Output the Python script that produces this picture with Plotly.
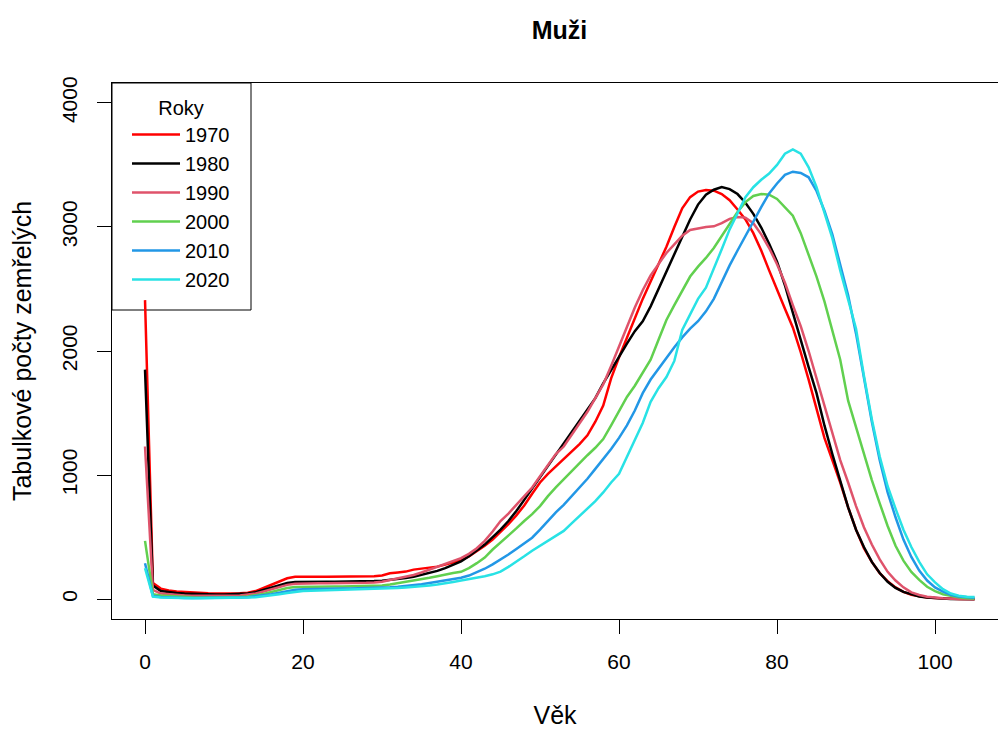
import plotly.graph_objects as go

ages = list(range(0, 106))

years = ["1970", "1980", "1990", "2000", "2010", "2020"]
colors = ["#FF0000", "#000000", "#DF536B", "#61D04F", "#2297E6", "#28E2E5"]

d1970 = [2410, 130, 85, 70, 62, 57, 53, 50, 48, 46,
         45, 46, 48, 52, 65, 90, 118, 145, 168, 180,
         182, 182, 181, 180, 180, 180, 180, 181, 182, 184,
         190, 208, 215, 222, 238, 245, 250, 262, 278, 295,
         312, 345, 385, 430, 480, 540, 605, 675, 755, 850,
         940, 1010, 1070, 1125, 1190, 1250, 1320, 1430, 1560, 1780,
         1950, 2110, 2270, 2420, 2560, 2700, 2840, 3000, 3150, 3240,
         3285, 3298, 3292, 3265, 3215, 3140, 3060, 2950, 2810, 2650,
         2490, 2340, 2190, 1990, 1770, 1530, 1300, 1120, 940, 740,
         560, 410, 300, 210, 145, 95, 58, 36, 22, 14,
         9, 5, 3, 2, 1, 1]

d1980 = [1850, 110, 65, 55, 50, 45, 42, 40, 38, 37,
         37, 38, 40, 45, 55, 75, 95, 115, 130, 138,
         140, 141, 141, 140, 140, 140, 141, 142, 144, 146,
         149, 155, 162, 170, 180, 195, 210, 228, 250, 275,
         305, 345, 390, 440, 500, 560, 630, 710, 800, 890,
         990, 1080, 1170, 1250, 1340, 1430, 1520, 1620, 1740, 1850,
         1960, 2060, 2160, 2240, 2360, 2500, 2650, 2780, 2920, 3060,
         3180, 3260, 3300, 3322, 3305, 3265, 3195, 3105, 2995, 2865,
         2720, 2530, 2310, 2080, 1870, 1660, 1400, 1170, 950, 740,
         560, 420, 300, 210, 140, 90, 58, 37, 22, 13,
         8, 4, 2, 1, 1, 0]

d1990 = [1230, 75, 45, 38, 33, 30, 28, 27, 26, 26,
         26, 27, 30, 35, 45, 62, 80, 100, 115, 124,
         127, 128, 128, 128, 128, 128, 129, 130, 132, 135,
         140, 155, 168, 180, 195, 215, 238, 258, 280, 305,
         330, 365, 410, 470, 545, 630, 690, 760, 830, 900,
         990, 1080, 1170, 1230, 1320, 1410, 1510, 1620, 1730, 1880,
         2040, 2200, 2350, 2490, 2610, 2700, 2790, 2860, 2930, 2975,
         2990, 3000, 3005, 3030, 3065, 3080, 3075, 3030, 2940, 2830,
         2700, 2550, 2370, 2200, 2000, 1780, 1560, 1360, 1120, 940,
         750, 580, 440, 320, 220, 150, 95, 55, 33, 20,
         12, 7, 4, 2, 1, 0]

d2000 = [470, 40, 30, 25, 20, 17, 15, 14, 14, 14,
         15, 16, 18, 22, 30, 42, 58, 75, 90, 98,
         100, 101, 101, 101, 102, 102, 103, 104, 105, 107,
         110, 118, 128, 138, 148, 160, 172, 185, 200, 210,
         220, 250, 290, 335, 400, 455, 510, 570, 630, 685,
         750, 830, 900, 965, 1030, 1100, 1160, 1220, 1290, 1400,
         1520, 1630, 1720, 1820, 1930, 2090, 2250, 2370, 2490, 2600,
         2680, 2750, 2830, 2930, 3020, 3120, 3200, 3250, 3265, 3260,
         3225, 3160, 3090, 2950, 2780, 2600, 2400, 2160, 1930, 1600,
         1380, 1160, 960, 772, 590, 430, 310, 220, 155, 100,
         65, 40, 25, 15, 8, 5]

d2010 = [290, 25, 18, 14, 12, 10, 9, 9, 9, 10,
         10, 11, 13, 16, 22, 30, 40, 52, 65, 75,
         80, 82, 83, 84, 84, 85, 86, 87, 88, 89,
         90, 95, 100, 106, 113, 120, 130, 140, 152, 162,
         172, 190, 215, 245, 280, 318, 360, 405, 450, 495,
         560, 630, 700, 760, 830, 900, 970, 1050, 1130, 1210,
         1300, 1400, 1520, 1660, 1770, 1860, 1940, 2030, 2110, 2180,
         2240, 2320, 2420, 2560, 2690, 2810, 2930, 3050, 3160, 3270,
         3350, 3420, 3445, 3435, 3400, 3290, 3130, 2940, 2700, 2450,
         2140, 1780, 1430, 1120, 860, 660, 480, 340, 230, 150,
         95, 60, 35, 22, 15, 12]

d2020 = [250, 20, 13, 10, 8, 7, 7, 7, 7, 8,
         8, 9, 11, 13, 16, 22, 30, 40, 50, 60,
         65, 68, 70, 71, 72, 73, 74, 75, 77, 80,
         83, 86, 90, 94, 98, 103, 110, 118, 126, 138,
         150, 160, 172, 185, 200, 222, 260, 300, 345, 390,
         430, 470, 510, 550, 610, 670, 730, 790, 860, 940,
         1010, 1150, 1280, 1420, 1590, 1700, 1790, 1920, 2170, 2300,
         2420, 2510, 2660, 2820, 2980, 3110, 3240, 3320, 3380, 3430,
         3500, 3590, 3625, 3590, 3480, 3320, 3120, 2910, 2650, 2420,
         2180, 1800, 1450, 1150, 910, 730, 560, 420, 300, 200,
         135, 80, 45, 28, 20, 18]

series = [d1970, d1980, d1990, d2000, d2010, d2020]

xticks = [0, 20, 40, 60, 80, 100]
yticks = [0, 1000, 2000, 3000, 4000]

FONT = "Liberation Sans, Arial, sans-serif"

# plot area geometry (pixels)
L, R, T, B = 112, 0, 83, 112
W, H = 998, 731
pw, ph = W - L - R, H - T - B

fig = go.Figure()
for name, col, vals in zip(years, colors, series):
    fig.add_trace(go.Scatter(x=ages, y=vals, mode="lines", name=name,
                             line=dict(color=col, width=2.5)))

# legend frame (R-style box)
fig.add_shape(type="rect", xref="paper", yref="paper",
              x0=0, x1=(251 - L) / pw, y0=1 - (310 - T) / ph, y1=1,
              line=dict(color="black", width=1), fillcolor="white", layer="below")

fig.update_layout(
    width=W, height=H,
    margin=dict(l=L, r=R, t=T, b=B, autoexpand=False),
    paper_bgcolor="white", plot_bgcolor="white",
    font=dict(family=FONT, size=21, color="black"),
    title=dict(text="<b>Muži</b>", x=559.5 / W, xref="container", xanchor="center",
               y=1 - 30 / H, yref="container", yanchor="middle",
               font=dict(size=25, family=FONT, color="black")),
    showlegend=True,
    legend=dict(x=15 / pw, y=1 - 6 / ph, xanchor="left", yanchor="top",
                bgcolor="rgba(0,0,0,0)", borderwidth=0,
                title=dict(text="Roky", side="top center",
                           font=dict(size=20, family=FONT, color="black")),
                font=dict(size=20, family=FONT, color="black"),
                itemwidth=48, tracegroupgap=0),
)

fig.update_xaxes(
    range=[-4.18, 107.97], tickvals=xticks, ticktext=[str(v) for v in xticks],
    ticks="outside", ticklen=14, tickwidth=1, tickcolor="black",
    showline=True, linecolor="black", linewidth=1, mirror=True,
    showgrid=False, zeroline=False, ticklabelstandoff=10, automargin=False,
    title=dict(text="Věk", standoff=34),
)
fig.update_yaxes(
    range=[-160, 4160], tickvals=yticks, ticktext=[str(v) for v in yticks],
    ticks="outside", ticklen=14, tickwidth=1, tickcolor="black",
    showline=True, linecolor="black", linewidth=1, mirror=False,
    showgrid=False, zeroline=False, tickangle=-90, ticklabelstandoff=12,
    automargin=False,
    title=dict(text="Tabulkové počty zemřelých", standoff=18),
)

fig.write_html("out.html",
               config={"displayModeBar": False},
               post_script="document.body.style.margin='0';document.body.style.overflow='hidden';")
